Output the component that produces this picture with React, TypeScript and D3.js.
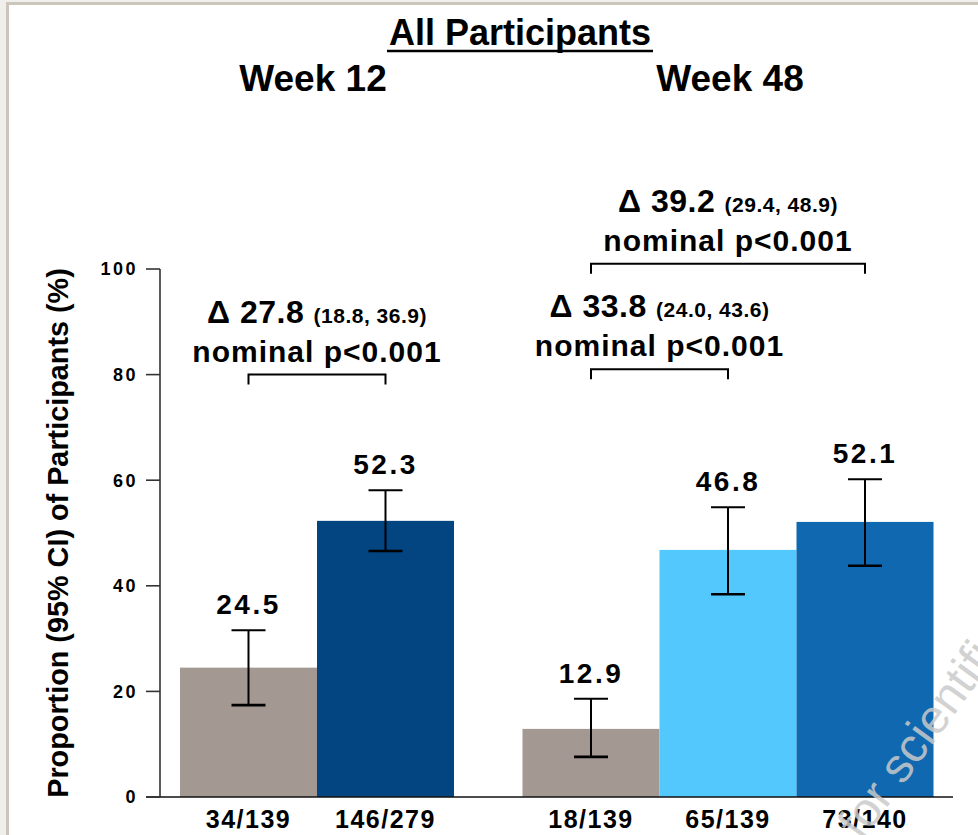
import React from "react";
import * as d3 from "d3";

// Responder counts / totals shown under each bar
const categories = ["34/139", "146/279", "18/139", "65/139", "73/140"];
const weeks = ["Week 12", "Week 12", "Week 48", "Week 48", "Week 48"];
// Proportion of participants (%) with 95% CI
const values = [24.5, 52.3, 12.9, 46.8, 52.1];
const ciLow = [17.4, 46.6, 7.6, 38.4, 43.8];
const ciHigh = [31.6, 58.1, 18.6, 54.9, 60.2];
const barColors = ["#a39892", "#024581", "#a39892", "#52c8fd", "#1068b0"];

const yTicks = [0, 20, 40, 60, 80, 100];

// Treatment differences vs. placebo
const compFrom = [0, 2, 2];
const compTo = [1, 3, 4];
const compDelta = ["27.8", "33.8", "39.2"];
const compCI = ["(18.8, 36.9)", "(24.0, 43.6)", "(29.4, 48.9)"];
const compLevel = [80, 81, 101];
const compP = ["nominal p<0.001", "nominal p<0.001", "nominal p<0.001"];

const W = 978;
const H = 835;
const FONT = "'Liberation Sans', Arial, Helvetica, sans-serif";

export default function App() {
  const y = d3.scaleLinear().domain([0, 100]).range([797, 269]);
  // bar slots: two bars at week 12, half-slot gap, three bars at week 48
  const slots = [0, 1, 2.5, 3.5, 4.5];
  const barW = 137;
  const x = d3.scaleLinear().domain([0, 5.5]).range([180, 180 + 5.5 * barW]);
  const cx = (i: number) => x(slots[i]) + barW / 2;

  const weekNames = Array.from(new Set(weeks));
  const weekCenter = (w: string) => {
    const idx = weeks.map((d, i) => (d === w ? i : -1)).filter((i) => i >= 0);
    return d3.mean(idx, (i) => cx(i)) as number;
  };
  const weekOffset = [313 - weekCenter("Week 12"), 730 - weekCenter("Week 48")];

  return (
    <div style={{ position: "absolute", left: 0, top: 0 }}>
      <svg width={W} height={H} style={{ display: "block" }} fontFamily={FONT}>
        {/* page frame */}
        <rect x={0} y={0} width={W} height={H} fill="#f1efec" />
        <rect x={6} y={2} width={W - 6} height={H - 2} fill="#ccc5bc" />
        <rect x={9} y={5} width={W - 9} height={H - 5} fill="#ffffff" />

        {/* titles */}
        <text x={520} y={45} textAnchor="middle" fontSize={36} fontWeight="bold" fill="#000">
          All Participants
        </text>
        <line x1={387} x2={653} y1={51} y2={51} stroke="#000" strokeWidth={2.5} />
        {weekNames.map((w, k) => (
          <text
            key={w}
            x={weekCenter(w) + weekOffset[k]}
            y={91}
            textAnchor="middle"
            fontSize={37}
            fontWeight="bold"
            fill="#000"
          >
            {w}
          </text>
        ))}

        {/* bars */}
        {values.map((v, i) => (
          <rect
            key={"b" + i}
            x={x(slots[i])}
            y={y(v)}
            width={barW}
            height={y(0) - y(v)}
            fill={barColors[i]}
          />
        ))}

        {/* error bars */}
        {values.map((v, i) => (
          <g key={"e" + i} stroke="#000" strokeWidth={2}>
            <line x1={cx(i)} x2={cx(i)} y1={y(ciHigh[i])} y2={y(ciLow[i])} />
            <line x1={cx(i) - 17} x2={cx(i) + 17} y1={y(ciHigh[i])} y2={y(ciHigh[i])} />
            <line x1={cx(i) - 17} x2={cx(i) + 17} y1={y(ciLow[i])} y2={y(ciLow[i])} strokeWidth={2.6} />
          </g>
        ))}

        {/* value labels */}
        {values.map((v, i) => (
          <text
            key={"v" + i}
            x={cx(i)}
            y={y(ciHigh[i]) - 16}
            textAnchor="middle"
            fontSize={28}
            fontWeight="bold"
            letterSpacing={2.5}
            fill="#000"
          >
            {v.toFixed(1)}
          </text>
        ))}

        {/* axes */}
        <line x1={160} x2={160} y1={y(100)} y2={y(0)} stroke="#333" strokeWidth={1.6} />
        <line x1={146} x2={953} y1={y(0)} y2={y(0)} stroke="#111" strokeWidth={1.6} />
        {yTicks.map((t) => (
          <g key={"t" + t}>
            <line x1={146} x2={160} y1={y(t)} y2={y(t)} stroke="#333" strokeWidth={1.6} />
            <text
              x={138}
              y={y(t)}
              dy="0.35em"
              textAnchor="end"
              fontSize={18}
              fontWeight="bold"
              letterSpacing={2.5}
              fill="#000"
            >
              {t}
            </text>
          </g>
        ))}
        <text
          transform={`translate(68, ${(y(0) + y(100)) / 2}) rotate(-90)`}
          textAnchor="middle"
          fontSize={28.8}
          fontWeight="bold"
          fill="#000"
        >
          Proportion (95% CI) of Participants (%)
        </text>

        {/* category labels */}
        {categories.map((c, i) => (
          <text
            key={"c" + i}
            x={cx(i)}
            y={828}
            textAnchor="middle"
            fontSize={25}
            fontWeight="bold"
            letterSpacing={1.5}
            fill="#000"
          >
            {c}
          </text>
        ))}

        {/* comparison brackets */}
        {compFrom.map((f, k) => {
          const x1 = cx(f);
          const x2 = cx(compTo[k]);
          const by = y(compLevel[k]);
          const mid = (x1 + x2) / 2;
          return (
            <g key={"c" + k}>
              <path
                d={`M${x1},${by + 10}V${by}H${x2}V${by + 10}`}
                fill="none"
                stroke="#000"
                strokeWidth={2}
              />
              <text x={mid} y={by - 13} textAnchor="middle" fontSize={30} fontWeight="bold" letterSpacing={1} fill="#000">
                {compP[k]}
              </text>
              <text x={mid} y={by - 52} textAnchor="middle" fontWeight="bold" fill="#000" letterSpacing={0.5}>
                <tspan fontSize={32}>{"Δ " + compDelta[k] + " "}</tspan>
                <tspan fontSize={21}>{compCI[k]}</tspan>
              </text>
            </g>
          );
        })}

        {/* watermark */}
        <text
          transform="translate(862, 842) rotate(-54)"
          fontSize={48}
          fill="#cacaca"
          fillOpacity={0.85}
        >
          for scientific
        </text>
      </svg>
    </div>
  );
}
